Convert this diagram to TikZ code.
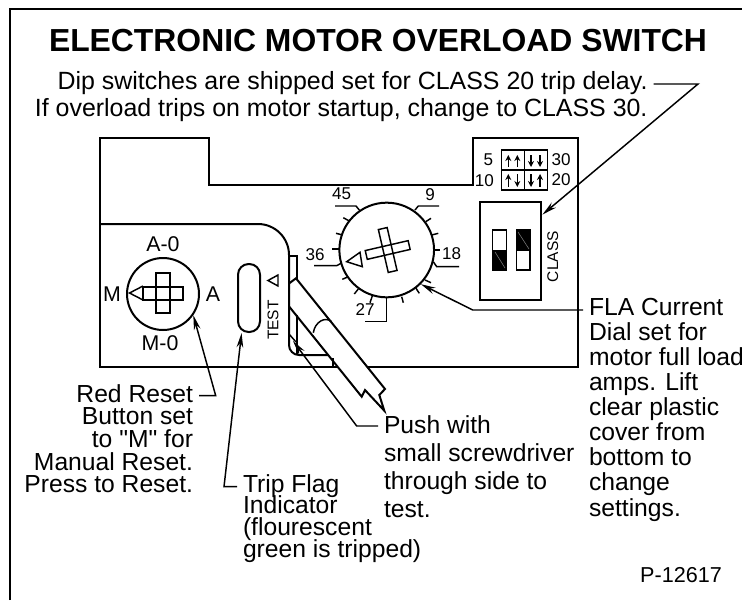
\documentclass[tikz,border=0pt]{standalone}
\usepackage{fontspec}
\setmainfont{Liberation Sans}
\newfontfamily\quotefont{Liberation Sans}
\usetikzlibrary{arrows.meta,positioning,calc}
\newcommand{\notefont}[1]{\fontsize{18.5}{#1}\selectfont\lineskiplimit=-20pt\relax}
\tikzset{
  outline/.style={line width=1.5pt,line join=miter},
  thinline/.style={line width=1.1pt},
  leader/.style={line width=1.1pt,-{Stealth[length=11pt,width=5pt]}},
  dirarrow/.style={line width=1.2pt,-{Stealth[length=4.5pt,width=4.5pt]}},
  titletext/.style={font=\fontsize{23.9}{26}\selectfont\bfseries,inner sep=0pt},
  notetext/.style={font=\notefont{20},inner sep=0pt,outer xsep=4.5pt},
  dialtext/.style={font=\fontsize{12.8}{14}\selectfont,inner sep=0pt},
  knobtext/.style={font=\fontsize{16}{18}\selectfont,inner sep=0pt},
  sidetext/.style={font=\fontsize{11.6}{14}\selectfont,inner sep=0pt}
}
\begin{document}
\begin{tikzpicture}[x=0.75pt,y=-0.75pt]
\useasboundingbox (0,0) rectangle (742,600);

% Outer frame runs off the right and bottom edges.
\draw[outline] (9.5,600) -- (9.5,8.5) -- (742,8.5);

\node[titletext] (title) at (378,41) {ELECTRONIC MOTOR OVERLOAD SWITCH};
\node[notetext,anchor=north east,font=\fontsize{18.7}{20}\selectfont] (noteA) at (653.5,71.5) {Dip switches are shipped set for CLASS 20 trip delay.};
\node[notetext,anchor=north east,font=\fontsize{18.7}{20}\selectfont] (noteB) at (653.5,98.5) {If overload trips on motor startup, change to CLASS 30.};

% Body of the switch.
\draw[outline] (100,138) -- (209,138) -- (209,185) -- (473,185) -- (473,138)
  -- (578,138) -- (578,367) -- (100,367) -- cycle;

% Screwdriver.
\draw[outline,fill=white] (289.3,283.3) -- (296,278.3) -- (385,389) -- (379.3,395) -- (384.3,410.7)
  -- (365,390) -- (361.7,396.7) -- (289.3,306.7);
\draw[thinline] (313.3,332.7) .. controls (315,322) and (325,316) .. (331.7,321.7);
\draw[thinline] (289,334) -- (296,342);

% Panel around the reset button.
\draw[outline] (100,224) -- (258,224) arc[start angle=-90,end angle=0,radius=31] -- (289,345)
  arc[start angle=180,end angle=90,radius=10] -- (328,355);
\draw[outline] (333,358) -- (333,367);
\draw[outline] (289,256) -- (297,256) -- (297,279);
\draw[outline] (297,315) -- (297,354);

% Reset knob.
\node[circle,draw,outline,minimum size=54pt,inner sep=0pt] (resetknob) at (163,294) {};
\draw[thinline] (156,273) rectangle (170,313);
\draw[thinline] (143,287) rectangle (183,300);
\draw[thinline] (143,286) -- (129.5,293) -- (143,300);
\node[knobtext] (labelAzero) at (163,244) {A-0};
\node[knobtext] (labelMzero) at (160,343) {M-0};
\node[knobtext] (labelM) at (112,294) {M};
\node[knobtext] (labelA) at (213,294) {A};

% Trip flag window.
\node[draw,outline,rounded corners=8pt,minimum width=16.5pt,minimum height=51pt,inner sep=0pt] (slot) at (249,298) {};
\node[sidetext,rotate=90] (labelTest) at (273,320) {TEST};
\draw[thinline] (268,280.5) -- (278,275) -- (278,286) -- cycle;

% Current dial.
\node[circle,draw,outline,minimum size=71pt,inner sep=0pt] (dial) at (386.7,250) {};
\draw[thinline,shift={(387.7,250)},rotate=13] (-22,-4.5) rectangle (22,4.5);
\draw[thinline,shift={(387.7,250)},rotate=13] (-4.5,-22) rectangle (4.5,22);
\draw[thinline] (346.7,261.7) -- (360,252.3) -- (362.3,266.7) -- cycle;
\foreach \xa/\ya/\xb/\yb in {343.3/217.7/349.3/221, 336/233.3/342.7/235, 332.3/249/340/249,
    342.3/279.3/348.3/276.7, 358.3/289/354.3/294, 372.3/296/370/302.7, 401.7/296.7/403.3/302.7,
    416/288.3/419.3/293.3, 425/280/431/282.7, 431.7/235/438.3/233.3, 425.7/221.7/431/218.3,
    433.3/250/440/250}
  \draw[thinline] (\xa,\ya) -- (\xb,\yb);
\draw[thinline] (359.3,210) -- (356,206) -- (335,206);
\draw[thinline] (415,210) -- (418.3,206) -- (439,206);
\draw[thinline] (433.3,261.7) -- (436.7,266.7) -- (459,266.7);
\draw[thinline] (341,263.3) -- (336.7,265.7) -- (314,265.7);
\draw[thinline] (386.7,298.3) -- (386.7,321.7) -- (365,321.7);
\node[dialtext] (dialA) at (341.7,194) {45};
\node[dialtext] (dialB) at (430,195) {9};
\node[dialtext] (dialC) at (451.7,253.3) {18};
\node[dialtext] (dialD) at (365,310) {27};
\node[dialtext] (dialE) at (315,254.3) {36};

% Class table and dip switches.
\draw[thinline] (501.7,150) rectangle (547.7,190);
\draw[thinline] (501.7,170) -- (547.7,170);
\draw[thinline] (524.3,150) -- (524.3,190);
\foreach \xpos/\ya/\yb in {508.3/167/155, 517.3/167/155, 531/155/167, 540/155/167,
    508.3/187/174, 517.3/174/187, 531/174/187, 540/187/174}
  \draw[dirarrow] (\xpos,\ya) -- (\xpos,\yb);
\node[dialtext] (classA) at (488.3,160) {5};
\node[dialtext] (classB) at (484.3,181) {10};
\node[dialtext] (classC) at (561,160) {30};
\node[dialtext] (classD) at (561,180) {20};

\node[draw,outline,minimum width=46pt,minimum height=73pt,inner sep=0pt] (dipbox) at (510.8,251) {};
\node[sidetext,rotate=90] (labelClass) at (552.7,256.7) {CLASS};
\draw[thinline] (492.3,230) rectangle (506.7,270);
\fill (492.3,250) rectangle (506.7,270);
\draw[gray,line width=0.4pt] (495,252) -- (505,268);
\draw[thinline] (516.7,230) rectangle (530,270);
\fill (516.7,230) rectangle (530,250.5);
\draw[gray,line width=0.4pt] (518,232) -- (529,249);

% Callouts.
\node[notetext,anchor=north east,align=right,font=\notefont{17}] (redtext) at (199,384)
  {Red Reset\\Button set\\to {\quotefont"}M{\quotefont"} for\\Manual Reset.\\Press to Reset.};
\node[notetext,anchor=north west,align=left,font=\notefont{16.3}] (triptext) at (237,474)
  {Trip Flag\\Indicator\\(flourescent\\green is tripped)};
\node[notetext,anchor=north west,align=left,font=\notefont{21}] (pushtext) at (378,415)
  {Push with\\small screwdriver\\through side to\\test.};
\node[notetext,anchor=north west,align=left,font=\notefont{18.8}] (flatext) at (583,298)
  {FLA Current\\Dial set for\\motor full load\\amps. Lift\\clear plastic\\cover from\\bottom to\\change\\settings.};
\node[inner sep=0pt,font=\fontsize{16.2}{18}\selectfont] (partno) at (681,575) {P-12617};

% Leaders.
\coordinate (notebend) at (698,84);
\coordinate (redbend) at (215.7,395.7);
\coordinate (tripbend) at (224,486.7);
\coordinate (pushbend) at (356.7,426);
\coordinate (pushtip) at (293,341);
\coordinate (flabend) at (472.7,310);
\draw[leader] (noteA.east |- notebend) -- (notebend) -- (dipbox.49);
\draw[leader] (redtext.east |- redbend) -- (redbend) -- (resetknob.-35);
\draw[leader] (triptext.west |- tripbend) -- (tripbend) -- (slot.-102);
\draw[leader] (pushtext.west |- pushbend) -- (pushbend) -- (pushtip);
\draw[leader] (flatext.west |- flabend) -- (flabend) -- (dial.-45);
\end{tikzpicture}
\end{document}
